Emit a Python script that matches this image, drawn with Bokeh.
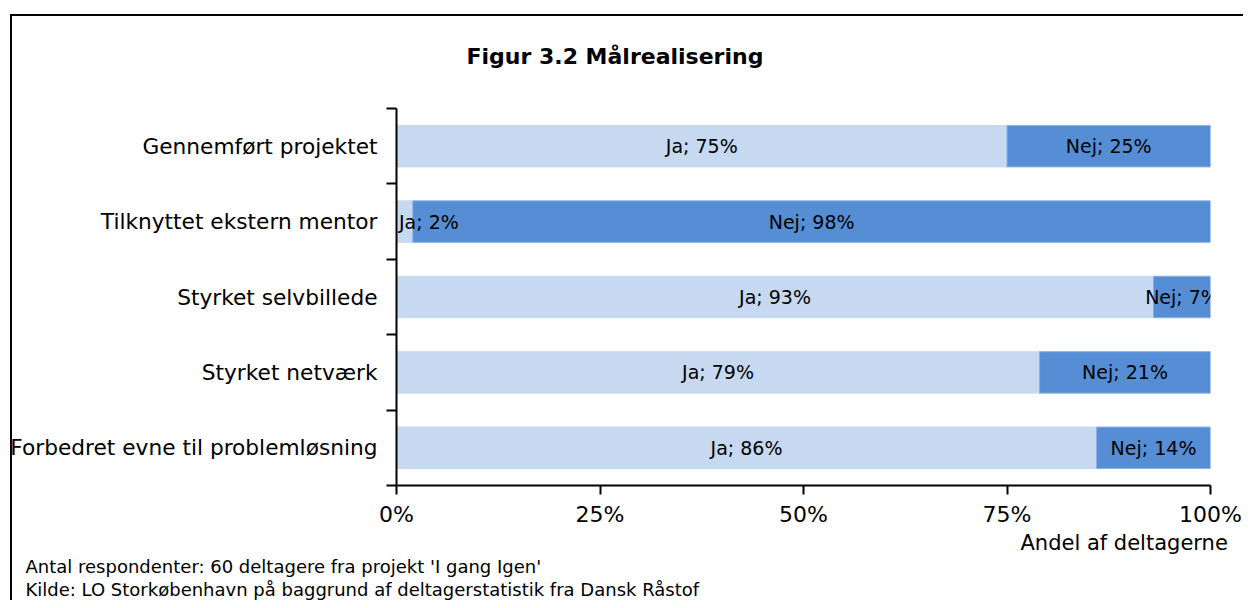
from bokeh.plotting import figure
from bokeh.models import ColumnDataSource, FixedTicker, Range1d, Title, InlineStyleSheet
from bokeh.core.properties import value
from bokeh.embed import file_html
from bokeh.resources import INLINE

categories = ["Gennemført projektet", "Tilknyttet ekstern mentor", "Styrket selvbillede",
              "Styrket netværk", "Forbedret evne til problemløsning"]
ja = [75, 2, 93, 79, 86]
nej = [25, 98, 7, 21, 14]
x_ticks = [0, 25, 50, 75, 100]
x_tick_labels = ["0%", "25%", "50%", "75%", "100%"]
title_text = "Figur 3.2 Målrealisering"
x_title = "Andel af deltagerne"
notes = ["Antal respondenter: 60 deltagere fra projekt 'I gang Igen'",
         "Kilde: LO Storkøbenhavn på baggrund af deltagerstatistik fra Dansk Råstof"]

FONT = "DejaVu Sans"
LIGHT = "#C6D9F1"
DARK = "#558ED5"

n = len(categories)
ypos = [n - i - 0.5 for i in range(n)]

p = figure(width=1243, height=600, output_backend="svg", toolbar_location=None,
           x_range=Range1d(0, 100), y_range=Range1d(0, n),
           min_border_left=396, min_border_right=33, min_border_top=108, min_border_bottom=115,
           title=None)
p.outline_line_color = None
p.grid.visible = False
p.background_fill_color = "white"
p.border_fill_color = "white"

nej_right = [a + b for a, b in zip(ja, nej)]
src = ColumnDataSource(dict(y=ypos, zero=[0] * n, ja_right=ja, nej_left=ja, nej_right=nej_right))
p.hbar(y="y", left="zero", right="ja_right", height=0.55, source=src,
       fill_color=LIGHT, line_color=LIGHT)
p.hbar(y="y", left="nej_left", right="nej_right", height=0.55, source=src,
       fill_color=DARK, line_color="#8AB0E3", line_width=1)

# bar labels
lx, ly, lt, la = [], [], [], []
for i in range(n):
    if ja[i] < 8:
        lx.append(0.3); la.append("left")
    else:
        lx.append(ja[i] / 2); la.append("center")
    ly.append(ypos[i]); lt.append(f"Ja; {ja[i]}%")
    lx.append(ja[i] + nej[i] / 2); la.append("center")
    ly.append(ypos[i]); lt.append(f"Nej; {nej[i]}%")
lsrc = ColumnDataSource(dict(x=lx, y=ly, t=lt, a=la))
p.text(x="x", y="y", text="t", text_align="a", text_baseline="middle", source=lsrc,
       text_font=value(FONT), text_font_size="19px", text_color="black")

# x axis
xa = p.xaxis[0]
xa.ticker = FixedTicker(ticks=x_ticks, minor_ticks=[])
xa.major_label_overrides = {t: l for t, l in zip(x_ticks, x_tick_labels)}
xa.major_tick_in = 0
xa.major_tick_out = 9
xa.major_label_standoff = 7
xa.axis_line_width = 2
xa.major_tick_line_width = 2
xa.major_label_text_font = FONT
xa.major_label_text_font_size = "22px"
xa.major_label_text_color = "black"

# y axis: labels at centers, ticks between categories
ya = p.yaxis[0]
ya.ticker = FixedTicker(ticks=ypos, minor_ticks=list(range(n + 1)))
ya.major_label_overrides = {y: c for y, c in zip(ypos, categories)}
ya.major_tick_in = 0
ya.major_tick_out = 0
ya.minor_tick_in = 0
ya.minor_tick_out = 10
ya.minor_tick_line_color = "black"
ya.minor_tick_line_width = 2
ya.axis_line_width = 2
ya.major_label_standoff = 9
ya.major_label_text_font = FONT
ya.major_label_text_font_size = "21.7px"
ya.major_label_text_color = "black"

# title above
p.add_layout(Title(text=title_text, align="left", offset=70, standoff=79,
                   text_font=FONT, text_font_size="22px", text_font_style="bold",
                   text_color="black"), "above")
# axis title and notes below
p.add_layout(Title(text=x_title, align="left", offset=624, standoff=-2,
                   text_font=FONT, text_font_size="21px", text_font_style="normal",
                   text_color="black"), "below")
for note in notes:
    p.add_layout(Title(text=note, align="left", offset=-371, standoff=0,
                       text_font=FONT, text_font_size="18px", text_font_style="normal",
                       text_color="black"), "below")

# outer chart border (left and top edges visible; the rest lies past the picture)
p.stylesheets = [
    InlineStyleSheet(css=""":host { position: relative; }
:host::after { content: ''; position: absolute; left: 10px; top: 14px;
 width: calc(100% - 10px); height: calc(100% - 14px);
 border-left: 2px solid black; border-top: 2px solid black; box-sizing: border-box;
 pointer-events: none; z-index: 10; }"""),
]

open("out.html", "w").write(file_html(p, INLINE))
